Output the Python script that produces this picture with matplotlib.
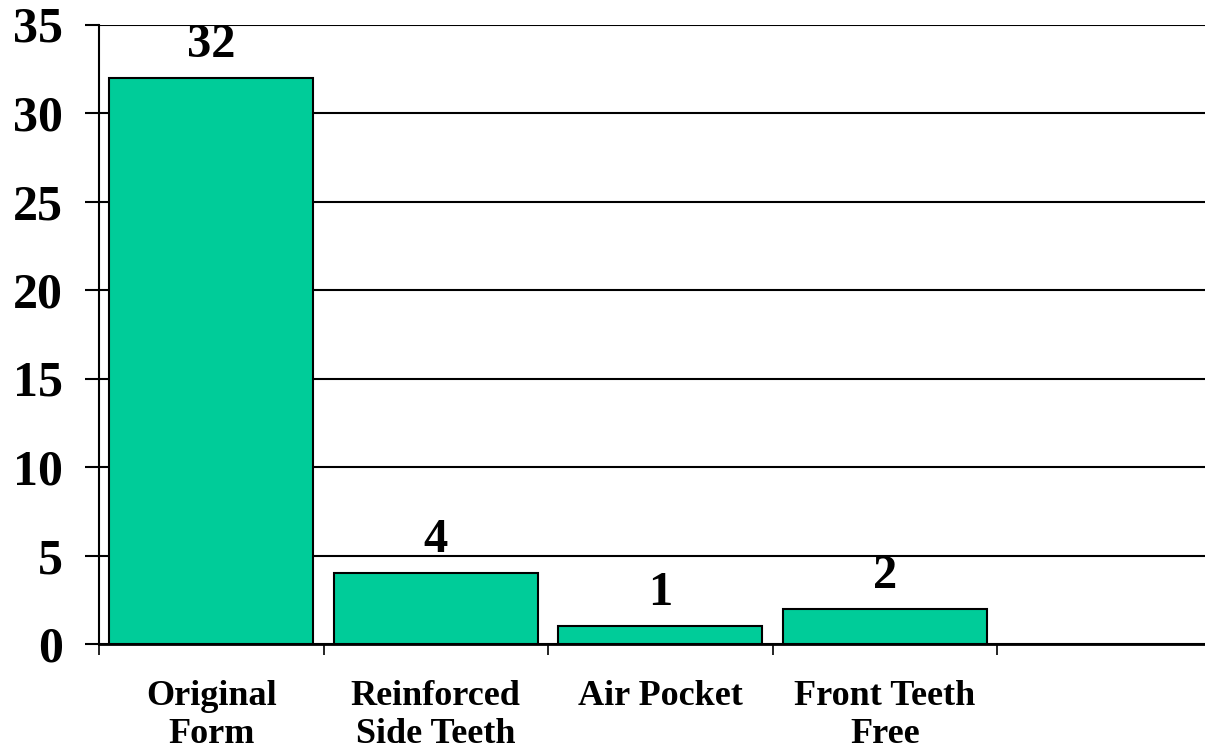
import matplotlib.pyplot as plt
import numpy as np

# datos
categorias = ['Original\nForm', 'Reinforced\nSide Teeth', 'Air Pocket', 'Front Teeth\nFree']
valores = [32, 4, 1, 2]
yticks = [0, 5, 10, 15, 20, 25, 30, 35]

plt.rcParams['font.family'] = ['Liberation Serif', 'DejaVu Serif']
plt.rcParams['font.weight'] = 'bold'

fig = plt.figure(figsize=(12.05, 7.56), dpi=100)
ax = fig.add_axes([99 / 1205, 112 / 756, 1122.5 / 1205, 619.5 / 756])

x = np.arange(len(categorias))
barras = ax.bar(x, valores, width=0.91, color='#00CC99', edgecolor='black', linewidth=1.5, zorder=3)

for xi, v in zip(x, valores):
    ax.annotate(str(v), (xi, v), xytext=(0, 15), textcoords='offset points',
                ha='center', va='baseline', fontsize=35, fontweight='bold')

ax.set_xlim(-0.5, 4.5)
ax.set_ylim(0, 35)
ax.set_yticks(yticks)
ax.yaxis.grid(True, color='black', linewidth=1.5, zorder=0)
ax.set_axisbelow(True)

ax.set_xticks(x)
ax.set_xticklabels(categorias, fontsize=26, fontweight='bold', linespacing=1.2)
ax.set_xticks(np.arange(-0.5, 5, 1), minor=True)
ax.tick_params(axis='x', which='major', length=0, pad=26)
ax.tick_params(axis='x', which='minor', length=8, width=1.2, color='black')
ax.tick_params(axis='y', length=10, width=1.5, pad=16, labelsize=36)
for lbl in ax.get_yticklabels():
    lbl.set_fontweight('bold')

for s in ['top', 'right']:
    ax.spines[s].set_visible(False)
ax.spines['left'].set_linewidth(1.5)
ax.spines['bottom'].set_linewidth(2)

plt.savefig('out.png', dpi=100)
plt.close()
